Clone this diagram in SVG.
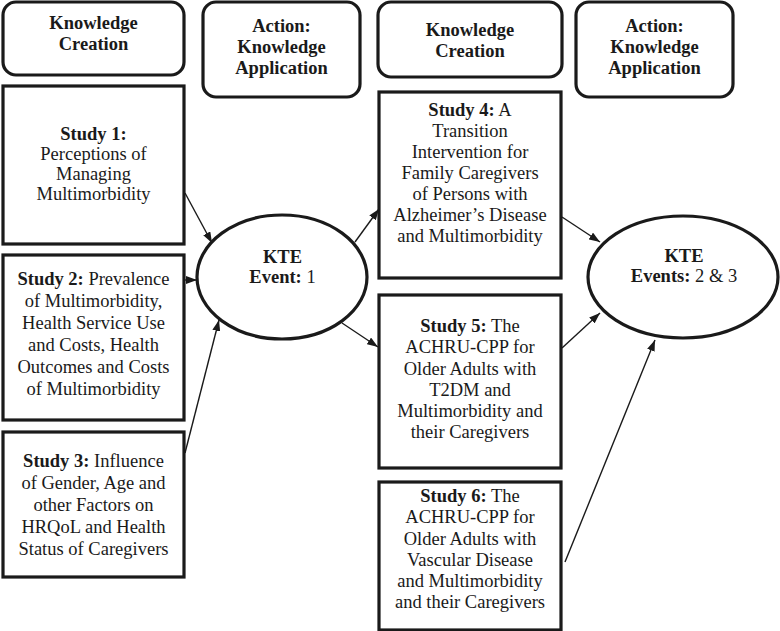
<svg xmlns="http://www.w3.org/2000/svg" width="780" height="631" viewBox="0 0 780 631">
<defs>
<style>
.hdr{fill:#fff;stroke:#1a1a1a;stroke-width:3.2}
.box{fill:#fff;stroke:#1a1a1a;stroke-width:3.2}
.ell{fill:#fff;stroke:#1a1a1a;stroke-width:3.2}
text{font-family:"Liberation Serif","Times New Roman",serif;font-size:18.5px;fill:#1a1a1a;text-anchor:middle}
.b{font-weight:bold}
.con line{stroke:#1a1a1a;stroke-width:1.4;marker-end:url(#ah)}
</style>
<marker id="ah" markerUnits="userSpaceOnUse" markerWidth="11" markerHeight="8" refX="11" refY="4" orient="auto">
<path d="M0,0 L11,4 L0,8 z" fill="#1a1a1a"/>
</marker>
</defs>
<rect width="780" height="631" fill="#fff"/>

<g id="hdr1">
<rect class="hdr" x="3" y="2" width="181" height="73" rx="13"/>
<text class="b" x="93.5" y="29">Knowledge</text>
<text class="b" x="93.5" y="50">Creation</text>
</g>
<g id="hdr2">
<rect class="hdr" x="203" y="2" width="157" height="95" rx="13"/>
<text class="b" x="281.5" y="32">Action:</text>
<text class="b" x="281.5" y="53">Knowledge</text>
<text class="b" x="281.5" y="74">Application</text>
</g>
<g id="hdr3">
<rect class="hdr" x="378" y="2" width="184" height="75" rx="13"/>
<text class="b" x="470" y="36">Knowledge</text>
<text class="b" x="470" y="57">Creation</text>
</g>
<g id="hdr4">
<rect class="hdr" x="576" y="2" width="157" height="95" rx="13"/>
<text class="b" x="654.5" y="32">Action:</text>
<text class="b" x="654.5" y="53">Knowledge</text>
<text class="b" x="654.5" y="74">Application</text>
</g>

<g id="study1">
<rect class="box" x="3" y="86" width="181" height="158"/>
<text class="b" x="93.5" y="140">Study 1:</text>
<text x="93.5" y="160">Perceptions of</text>
<text x="93.5" y="180">Managing</text>
<text x="93.5" y="200">Multimorbidity</text>
</g>
<g id="study2">
<rect class="box" x="3" y="255" width="181" height="165"/>
<text x="93.5" y="285"><tspan class="b">Study 2:</tspan> Prevalence</text>
<text x="93.5" y="307">of Multimorbidity,</text>
<text x="93.5" y="329">Health Service Use</text>
<text x="93.5" y="351">and Costs, Health</text>
<text x="93.5" y="373">Outcomes and Costs</text>
<text x="93.5" y="395">of Multimorbidity</text>
</g>
<g id="study3">
<rect class="box" x="3" y="432" width="181" height="145"/>
<text x="93.5" y="467"><tspan class="b">Study 3:</tspan> Influence</text>
<text x="93.5" y="489">of Gender, Age and</text>
<text x="93.5" y="511">other Factors on</text>
<text x="93.5" y="533">HRQoL and Health</text>
<text x="93.5" y="555">Status of Caregivers</text>
</g>

<g id="kte1">
<ellipse class="ell" cx="282" cy="277" rx="85" ry="62"/>
<text class="b" x="282.5" y="263">KTE</text>
<text x="282.5" y="283"><tspan class="b">Event:</tspan> 1</text>
</g>

<g id="study4">
<rect class="box" x="379" y="92" width="182" height="186"/>
<text x="470" y="116"><tspan class="b">Study 4:</tspan> A</text>
<text x="470" y="137">Transition</text>
<text x="470" y="158">Intervention for</text>
<text x="470" y="179">Family Caregivers</text>
<text x="470" y="200">of Persons with</text>
<text x="470" y="221">Alzheimer’s Disease</text>
<text x="470" y="242">and Multimorbidity</text>
</g>
<g id="study5">
<rect class="box" x="379" y="295" width="182" height="173"/>
<text x="470" y="332"><tspan class="b">Study 5:</tspan> The</text>
<text x="470" y="353">ACHRU-CPP for</text>
<text x="470" y="375">Older Adults with</text>
<text x="470" y="396">T2DM and</text>
<text x="470" y="417">Multimorbidity and</text>
<text x="470" y="438">their Caregivers</text>
</g>
<g id="study6">
<rect class="box" x="379" y="482" width="182" height="148"/>
<text x="470" y="502"><tspan class="b">Study 6:</tspan> The</text>
<text x="470" y="523">ACHRU-CPP for</text>
<text x="470" y="545">Older Adults with</text>
<text x="470" y="566">Vascular Disease</text>
<text x="470" y="587">and Multimorbidity</text>
<text x="470" y="608">and their Caregivers</text>
</g>

<g id="kte2">
<ellipse class="ell" cx="683" cy="277" rx="95" ry="61"/>
<text class="b" x="684" y="262">KTE</text>
<text x="684" y="282"><tspan class="b">Events:</tspan> 2 &amp; 3</text>
</g>

<g id="connectors" class="con">
<line x1="185" y1="193" x2="212" y2="243"/>
<line x1="185" y1="280" x2="197" y2="280"/>
<line x1="185" y1="453" x2="219" y2="320"/>
<line x1="355" y1="242" x2="379" y2="209"/>
<line x1="342" y1="323" x2="378" y2="347"/>
<line x1="562" y1="217" x2="600" y2="242"/>
<line x1="562" y1="348" x2="600" y2="313"/>
<line x1="565" y1="562" x2="655" y2="340"/>
</g>
</svg>
